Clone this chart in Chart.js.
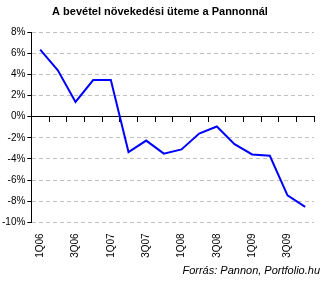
<!DOCTYPE html>
<html>
<head>
<meta charset="utf-8">
<script src="https://cdn.jsdelivr.net/npm/chart.js@4/dist/chart.umd.min.js"></script>
<style>
  html, body { margin: 0; padding: 0; background: #fff; }
  #wrap { width: 335px; height: 283px; }
</style>
</head>
<body>
<div id="wrap"><canvas id="myChart"></canvas></div>
<script>
var quarters = ['1Q06', '2Q06', '3Q06', '4Q06', '1Q07', '2Q07', '3Q07', '4Q07',
                '1Q08', '2Q08', '3Q08', '4Q08', '1Q09', '2Q09', '3Q09', '4Q09'];
var growth = [6.35, 4.4, 1.4, 3.47, 3.47, -3.35, -2.26, -3.5,
              -3.1, -1.6, -0.93, -2.6, -3.57, -3.7, -7.44, -8.53];
var yTicks = [8, 6, 4, 2, 0, -2, -4, -6, -8, -10];

Chart.defaults.font.family = 'Arial, "Liberation Sans", sans-serif';
Chart.defaults.color = '#000';

var ctx = document.getElementById('myChart');
var myChart = new Chart(ctx, {
    type: 'line',
    data: {
        labels: quarters,
        datasets: [{
            data: growth,
            borderColor: '#0000ff',
            borderWidth: 2,
            pointRadius: 0,
            tension: 0,
            fill: false
        }]
    },
    options: {
        responsive: true,
        maintainAspectRatio: false,
        animation: false,
        layout: { padding: { left: 0, right: 15, top: 0, bottom: 5 } },
        plugins: {
            legend: { display: false },
            tooltip: { enabled: false },
            title: {
                display: true,
                text: 'A bevétel növekedési üteme a Pannonnál',
                font: { size: 11, weight: 'bold' },
                padding: { top: 5, bottom: 14 }
            },
            subtitle: {
                display: true,
                position: 'bottom',
                align: 'end',
                text: 'Forrás: Pannon, Portfolio.hu',
                font: { size: 11, style: 'italic' },
                padding: { top: 4, bottom: 0 }
            }
        },
        scales: {
            x: {
                offset: true,
                grid: { display: false },
                border: { display: false },
                ticks: {
                    autoSkip: false,
                    minRotation: 90,
                    maxRotation: 90,
                    font: { size: 10 },
                    padding: 3,
                    callback: function (v, i) { return i % 2 === 0 ? quarters[i] : ''; }
                }
            },
            x0: {
                type: 'category',
                position: { y: 0 },
                offset: true,
                grid: { offset: true, drawOnChartArea: false, tickLength: 5, color: '#000' },
                border: { display: true, color: '#000', width: 1 },
                ticks: { display: false }
            },
            y: {
                min: -10,
                max: 8,
                afterBuildTicks: function (axis) {
                    axis.ticks = yTicks.map(function (v) { return { value: v }; });
                },
                grid: {
                    color: '#c0c0c0',
                    tickColor: '#000',
                    tickLength: 4,
                    tickBorderDash: [],
                    tickBorderDashOffset: 0
                },
                border: { display: true, color: '#000', width: 1, dash: [4, 3] },
                ticks: {
                    font: { size: 10 },
                    padding: 2,
                    callback: function (v) { return v + '%'; }
                }
            },
            yRight: {
                position: 'right',
                min: -10,
                max: 8,
                grid: { display: false },
                border: { display: false },
                ticks: { display: false },
                afterFit: function (axis) { axis.width = 6; }
            }
        }
    }
});
</script>
</body>
</html>
